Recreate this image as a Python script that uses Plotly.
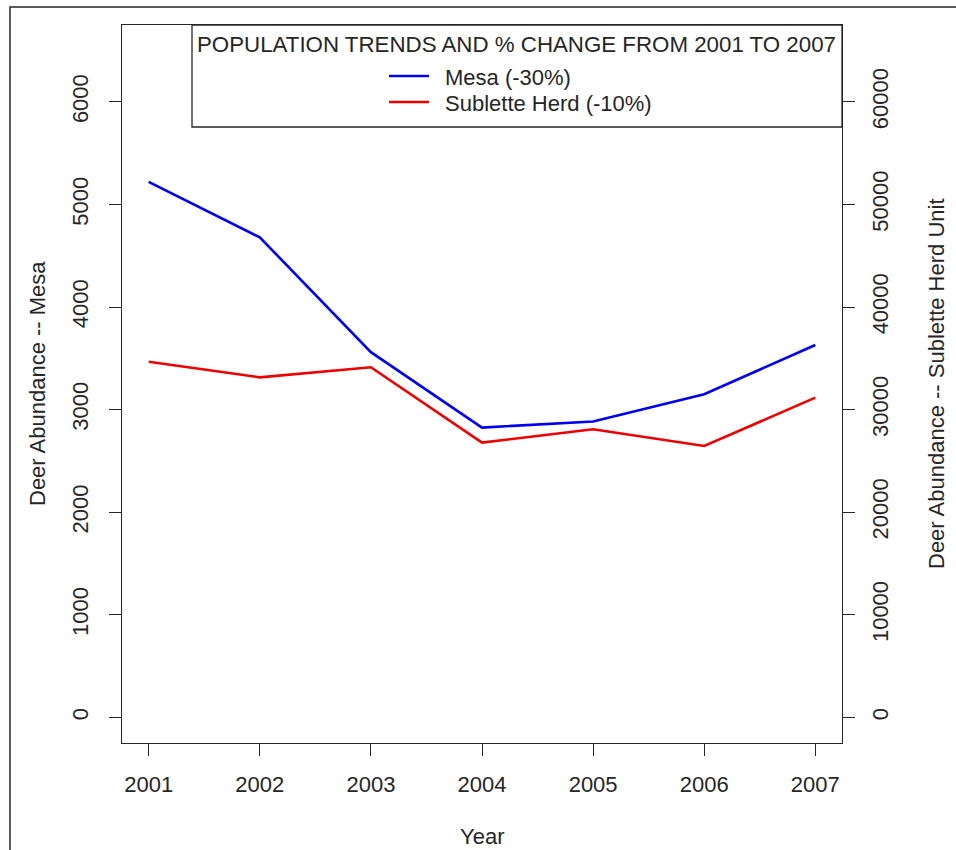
import plotly.graph_objects as go

# Deer abundance by year
years = [2001, 2002, 2003, 2004, 2005, 2006, 2007]
mesa = [5220, 4680, 3560, 2825, 2885, 3150, 3630]
sublette = [34670, 33150, 34130, 26790, 28090, 26460, 31170]

left_ticks = [0, 1000, 2000, 3000, 4000, 5000, 6000]
right_ticks = [0, 10000, 20000, 30000, 40000, 50000, 60000]

legend_title = "POPULATION TRENDS AND % CHANGE FROM 2001 TO 2007"
mesa_name = "Mesa (-30%)"
sublette_name = "Sublette Herd (-10%)"

W, H = 956, 850
ML, MR, MT, MB = 122, 114, 25, 107
PW, PH = W - ML - MR, H - MT - MB

FONT = "Liberation Sans, Arial, sans-serif"
INK = "#262626"
BLUE = "#0000ee"
RED = "#ee0000"


def px(x):
    return (x - ML) / PW


def py(y):
    return (H - MB - y) / PH


fig = go.Figure()
fig.add_trace(go.Scatter(x=years, y=mesa, mode="lines", name=mesa_name,
                         line=dict(color=BLUE, width=2.6), yaxis="y"))
fig.add_trace(go.Scatter(x=years, y=sublette, mode="lines", name=sublette_name,
                         line=dict(color=RED, width=2.6), yaxis="y2"))

axis_common = dict(
    showgrid=False, zeroline=False, showline=True, linecolor=INK, linewidth=1.3,
    ticks="outside", ticklen=12, tickwidth=1.3, tickcolor=INK,
    tickfont=dict(family=FONT, size=22, color=INK), tickformat="d",
)

fig.update_layout(
    width=W, height=H,
    margin=dict(l=ML, r=MR, t=MT, b=MB),
    paper_bgcolor="white", plot_bgcolor="white",
    showlegend=False,
    xaxis=dict(range=[2000.76, 2007.24], tickvals=years, mirror=True,
               ticklabelstandoff=9, **axis_common),
    yaxis=dict(range=[-250, 6750], tickvals=left_ticks, tickangle=-90,
               ticklabelstandoff=12, **axis_common),
    yaxis2=dict(range=[-2500, 67500], tickvals=right_ticks, tickangle=-90,
                overlaying="y", side="right", ticklabelstandoff=6, **axis_common),
)

shapes = []
annotations = []

# Outer frame around the page
shapes.append(dict(type="rect", xref="paper", yref="paper",
                   x0=px(10), x1=px(970), y0=py(7), y1=py(870),
                   line=dict(color=INK, width=1.5)))

# Legend box with title and line samples
shapes.append(dict(type="rect", xref="paper", yref="paper",
                   x0=px(192), x1=1, y0=py(127), y1=1,
                   line=dict(color=INK, width=1.3), fillcolor="white", layer="above"))
annotations.append(dict(text=legend_title, xref="paper", yref="paper",
                        x=px(516), y=py(44), xanchor="center", yanchor="middle",
                        showarrow=False, font=dict(family=FONT, size=22.3, color=INK)))
for name, color, yy in [(mesa_name, BLUE, 76), (sublette_name, RED, 102)]:
    shapes.append(dict(type="line", xref="paper", yref="paper",
                       x0=px(389), x1=px(429), y0=py(yy), y1=py(yy),
                       line=dict(color=color, width=2.6), layer="above"))
    annotations.append(dict(text=name, xref="paper", yref="paper",
                            x=px(443), y=py(yy + 1), xanchor="left", yanchor="middle",
                            showarrow=False, font=dict(family=FONT, size=22, color=INK)))

# Axis titles
annotations.append(dict(text="Year", xref="paper", yref="paper",
                        x=0.5, y=py(836), xanchor="center", yanchor="middle",
                        showarrow=False, font=dict(family=FONT, size=22, color=INK)))
annotations.append(dict(text="Deer Abundance -- Mesa", xref="paper", yref="paper",
                        x=px(37), y=0.5, xanchor="center", yanchor="middle", textangle=-90,
                        showarrow=False, font=dict(family=FONT, size=22, color=INK)))
annotations.append(dict(text="Deer Abundance -- Sublette Herd Unit", xref="paper", yref="paper",
                        x=px(936), y=0.5, xanchor="center", yanchor="middle", textangle=-90,
                        showarrow=False, font=dict(family=FONT, size=22, color=INK)))

fig.update_layout(shapes=shapes, annotations=annotations)
fig.write_html("out.html")
